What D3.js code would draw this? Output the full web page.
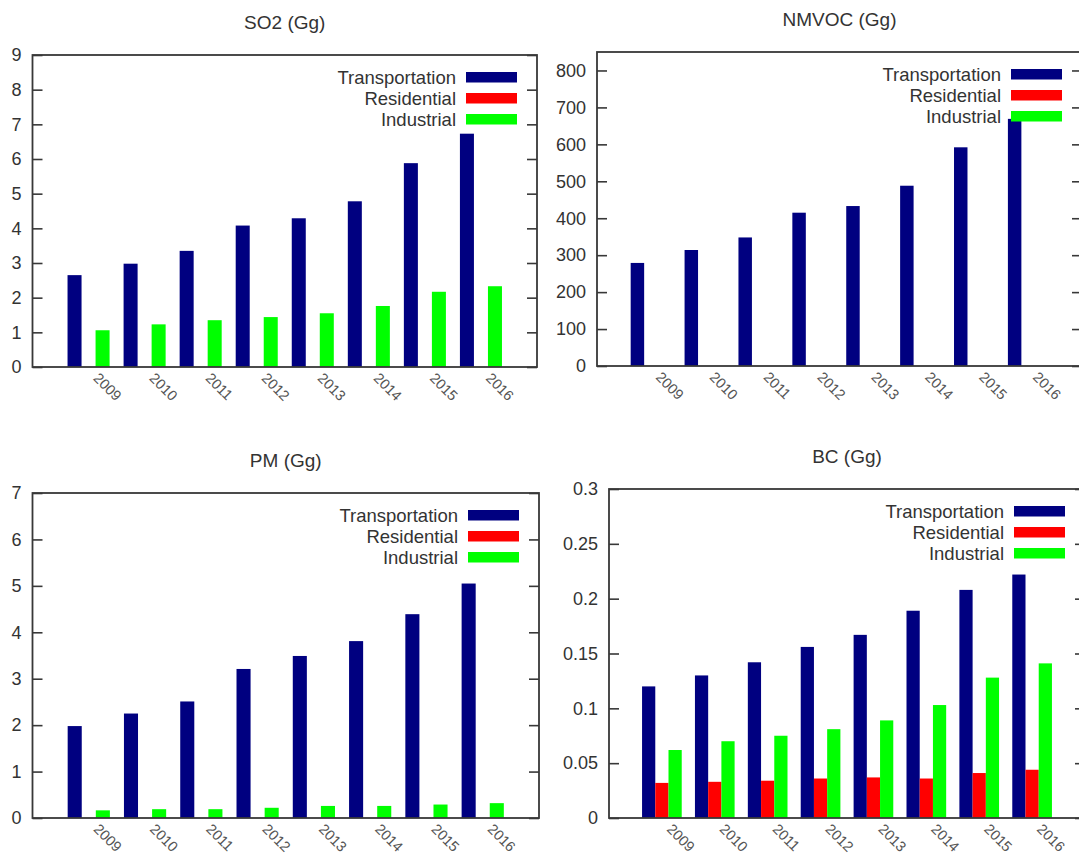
<!DOCTYPE html>
<html>
<head>
<meta charset="utf-8">
<script src="https://cdn.jsdelivr.net/npm/d3@7"></script>
<style>
  html, body { margin: 0; padding: 0; background: #fff; }
  svg { display: block; font-family: "Liberation Sans", Arial, sans-serif; }
</style>
</head>
<body>
<svg id="chart" width="1079" height="856"></svg>
<script>
// ---------- data ----------
const years = ["2009", "2010", "2011", "2012", "2013", "2014", "2015", "2016"];
const seriesNames = ["Transportation", "Residential", "Industrial"];
const seriesColors = ["#000080", "#ff0000", "#00ff00"];

const so2Transport   = [2.65, 2.98, 3.35, 4.08, 4.29, 4.78, 5.88, 6.73];
const so2Residential = [0, 0, 0, 0, 0, 0, 0, 0];
const so2Industrial  = [1.06, 1.23, 1.35, 1.44, 1.55, 1.76, 2.17, 2.33];

const nmvocTransport   = [279, 314, 348, 415, 433, 488, 592, 669];
const nmvocResidential = [0, 0, 0, 0, 0, 0, 0, 0];
const nmvocIndustrial  = [0, 0, 0, 0, 0, 0, 0, 0];

const pmTransport   = [1.98, 2.25, 2.51, 3.21, 3.49, 3.81, 4.39, 5.05];
const pmResidential = [0, 0, 0, 0, 0, 0, 0, 0];
const pmIndustrial  = [0.165, 0.19, 0.19, 0.22, 0.26, 0.26, 0.29, 0.32];

const bcTransport   = [0.120, 0.130, 0.142, 0.156, 0.167, 0.189, 0.208, 0.222];
const bcResidential = [0.032, 0.033, 0.034, 0.036, 0.037, 0.036, 0.041, 0.044];
const bcIndustrial  = [0.062, 0.070, 0.075, 0.081, 0.089, 0.103, 0.128, 0.141];

const so2Ticks   = [0, 1, 2, 3, 4, 5, 6, 7, 8, 9];
const nmvocTicks = [0, 100, 200, 300, 400, 500, 600, 700, 800];
const pmTicks    = [0, 1, 2, 3, 4, 5, 6, 7];
const bcTicks    = [0, 0.05, 0.1, 0.15, 0.2, 0.25, 0.3];

const titles = ["SO2 (Gg)", "NMVOC (Gg)", "PM (Gg)", "BC (Gg)"];

// ---------- panels ----------
const panels = [
  { title: titles[0], series: [so2Transport, so2Residential, so2Industrial], ticks: so2Ticks, ymax: 9,
    box: { left: 32.5, right: 537, top: 55, bottom: 367 } },
  { title: titles[1], series: [nmvocTransport, nmvocResidential, nmvocIndustrial], ticks: nmvocTicks, ymax: 850,
    box: { left: 597, right: 1082, top: 52, bottom: 366 } },
  { title: titles[2], series: [pmTransport, pmResidential, pmIndustrial], ticks: pmTicks, ymax: 7,
    box: { left: 32.5, right: 539, top: 493, bottom: 818 } },
  { title: titles[3], series: [bcTransport, bcResidential, bcIndustrial], ticks: bcTicks, ymax: 0.3,
    box: { left: 609, right: 1085, top: 489, bottom: 818 } }
];

const svg = d3.select("#chart");
svg.append("rect").attr("width", 1079).attr("height", 856).attr("fill", "#fff");

const textColor = "#333";
const borderColor = "#383838";

panels.forEach(p => {
  const b = p.box;
  const g = svg.append("g");
  const x = d3.scaleLinear().domain([-1, years.length]).range([b.left, b.right]);
  const y = d3.scaleLinear().domain([0, p.ymax]).range([b.bottom, b.top]);
  const slot = x(0.25) - x(0);

  // bars
  p.series.forEach((vals, j) => {
    g.append("g").selectAll("rect")
      .data(vals)
      .join("rect")
      .attr("x", (d, i) => x(i + (j - 1) * 0.25) - slot / 2)
      .attr("width", slot)
      .attr("y", d => y(d))
      .attr("height", d => y(0) - y(d))
      .attr("fill", seriesColors[j]);
  });

  // left axis (inward ticks)
  const fmt = d => String(+d.toFixed(4));
  const la = g.append("g")
    .attr("transform", `translate(${b.left},0)`)
    .call(d3.axisLeft(y).tickValues(p.ticks).tickSize(-10).tickPadding(11).tickFormat(fmt));
  la.select(".domain").remove();
  la.selectAll(".tick line").attr("stroke", borderColor).attr("stroke-width", 1.6);
  la.selectAll(".tick text")
    .attr("fill", textColor)
    .attr("font-size", 18)
    .attr("font-family", "'Liberation Sans', Arial, sans-serif");

  // right mirrored ticks
  const ra = g.append("g")
    .attr("transform", `translate(${b.right},0)`)
    .call(d3.axisRight(y).tickValues(p.ticks).tickSize(-10).tickFormat(""));
  ra.select(".domain").remove();
  ra.selectAll(".tick line").attr("stroke", borderColor).attr("stroke-width", 1.6);

  // border
  g.append("rect")
    .attr("x", b.left).attr("y", b.top)
    .attr("width", b.right - b.left).attr("height", b.bottom - b.top)
    .attr("fill", "none").attr("stroke", borderColor).attr("stroke-width", 1.8);

  // x tick labels (rotated)
  g.append("g").selectAll("text")
    .data(years)
    .join("text")
    .attr("transform", (d, i) => `translate(${x(i) + 4},${b.bottom + 12}) rotate(45)`)
    .attr("text-anchor", "start")
    .attr("font-size", 14.5)
    .attr("fill", "#555")
    .text(d => d);

  // title
  g.append("text")
    .attr("x", (b.left + b.right) / 2)
    .attr("y", b.top - 26)
    .attr("text-anchor", "middle")
    .attr("font-size", 19)
    .attr("fill", textColor)
    .text(p.title);

  // legend
  const lg = g.append("g");
  seriesNames.forEach((name, j) => {
    const cy = b.top + 22 + j * 21;
    const sx = b.right - 20 - 51;
    lg.append("rect")
      .attr("x", sx).attr("y", cy - 5)
      .attr("width", 51).attr("height", 10.5)
      .attr("fill", seriesColors[j]);
    lg.append("text")
      .attr("x", sx - 10).attr("y", cy)
      .attr("dy", "0.36em")
      .attr("text-anchor", "end")
      .attr("font-size", 18.5)
      .attr("fill", textColor)
      .text(name);
  });
});
</script>
</body>
</html>
